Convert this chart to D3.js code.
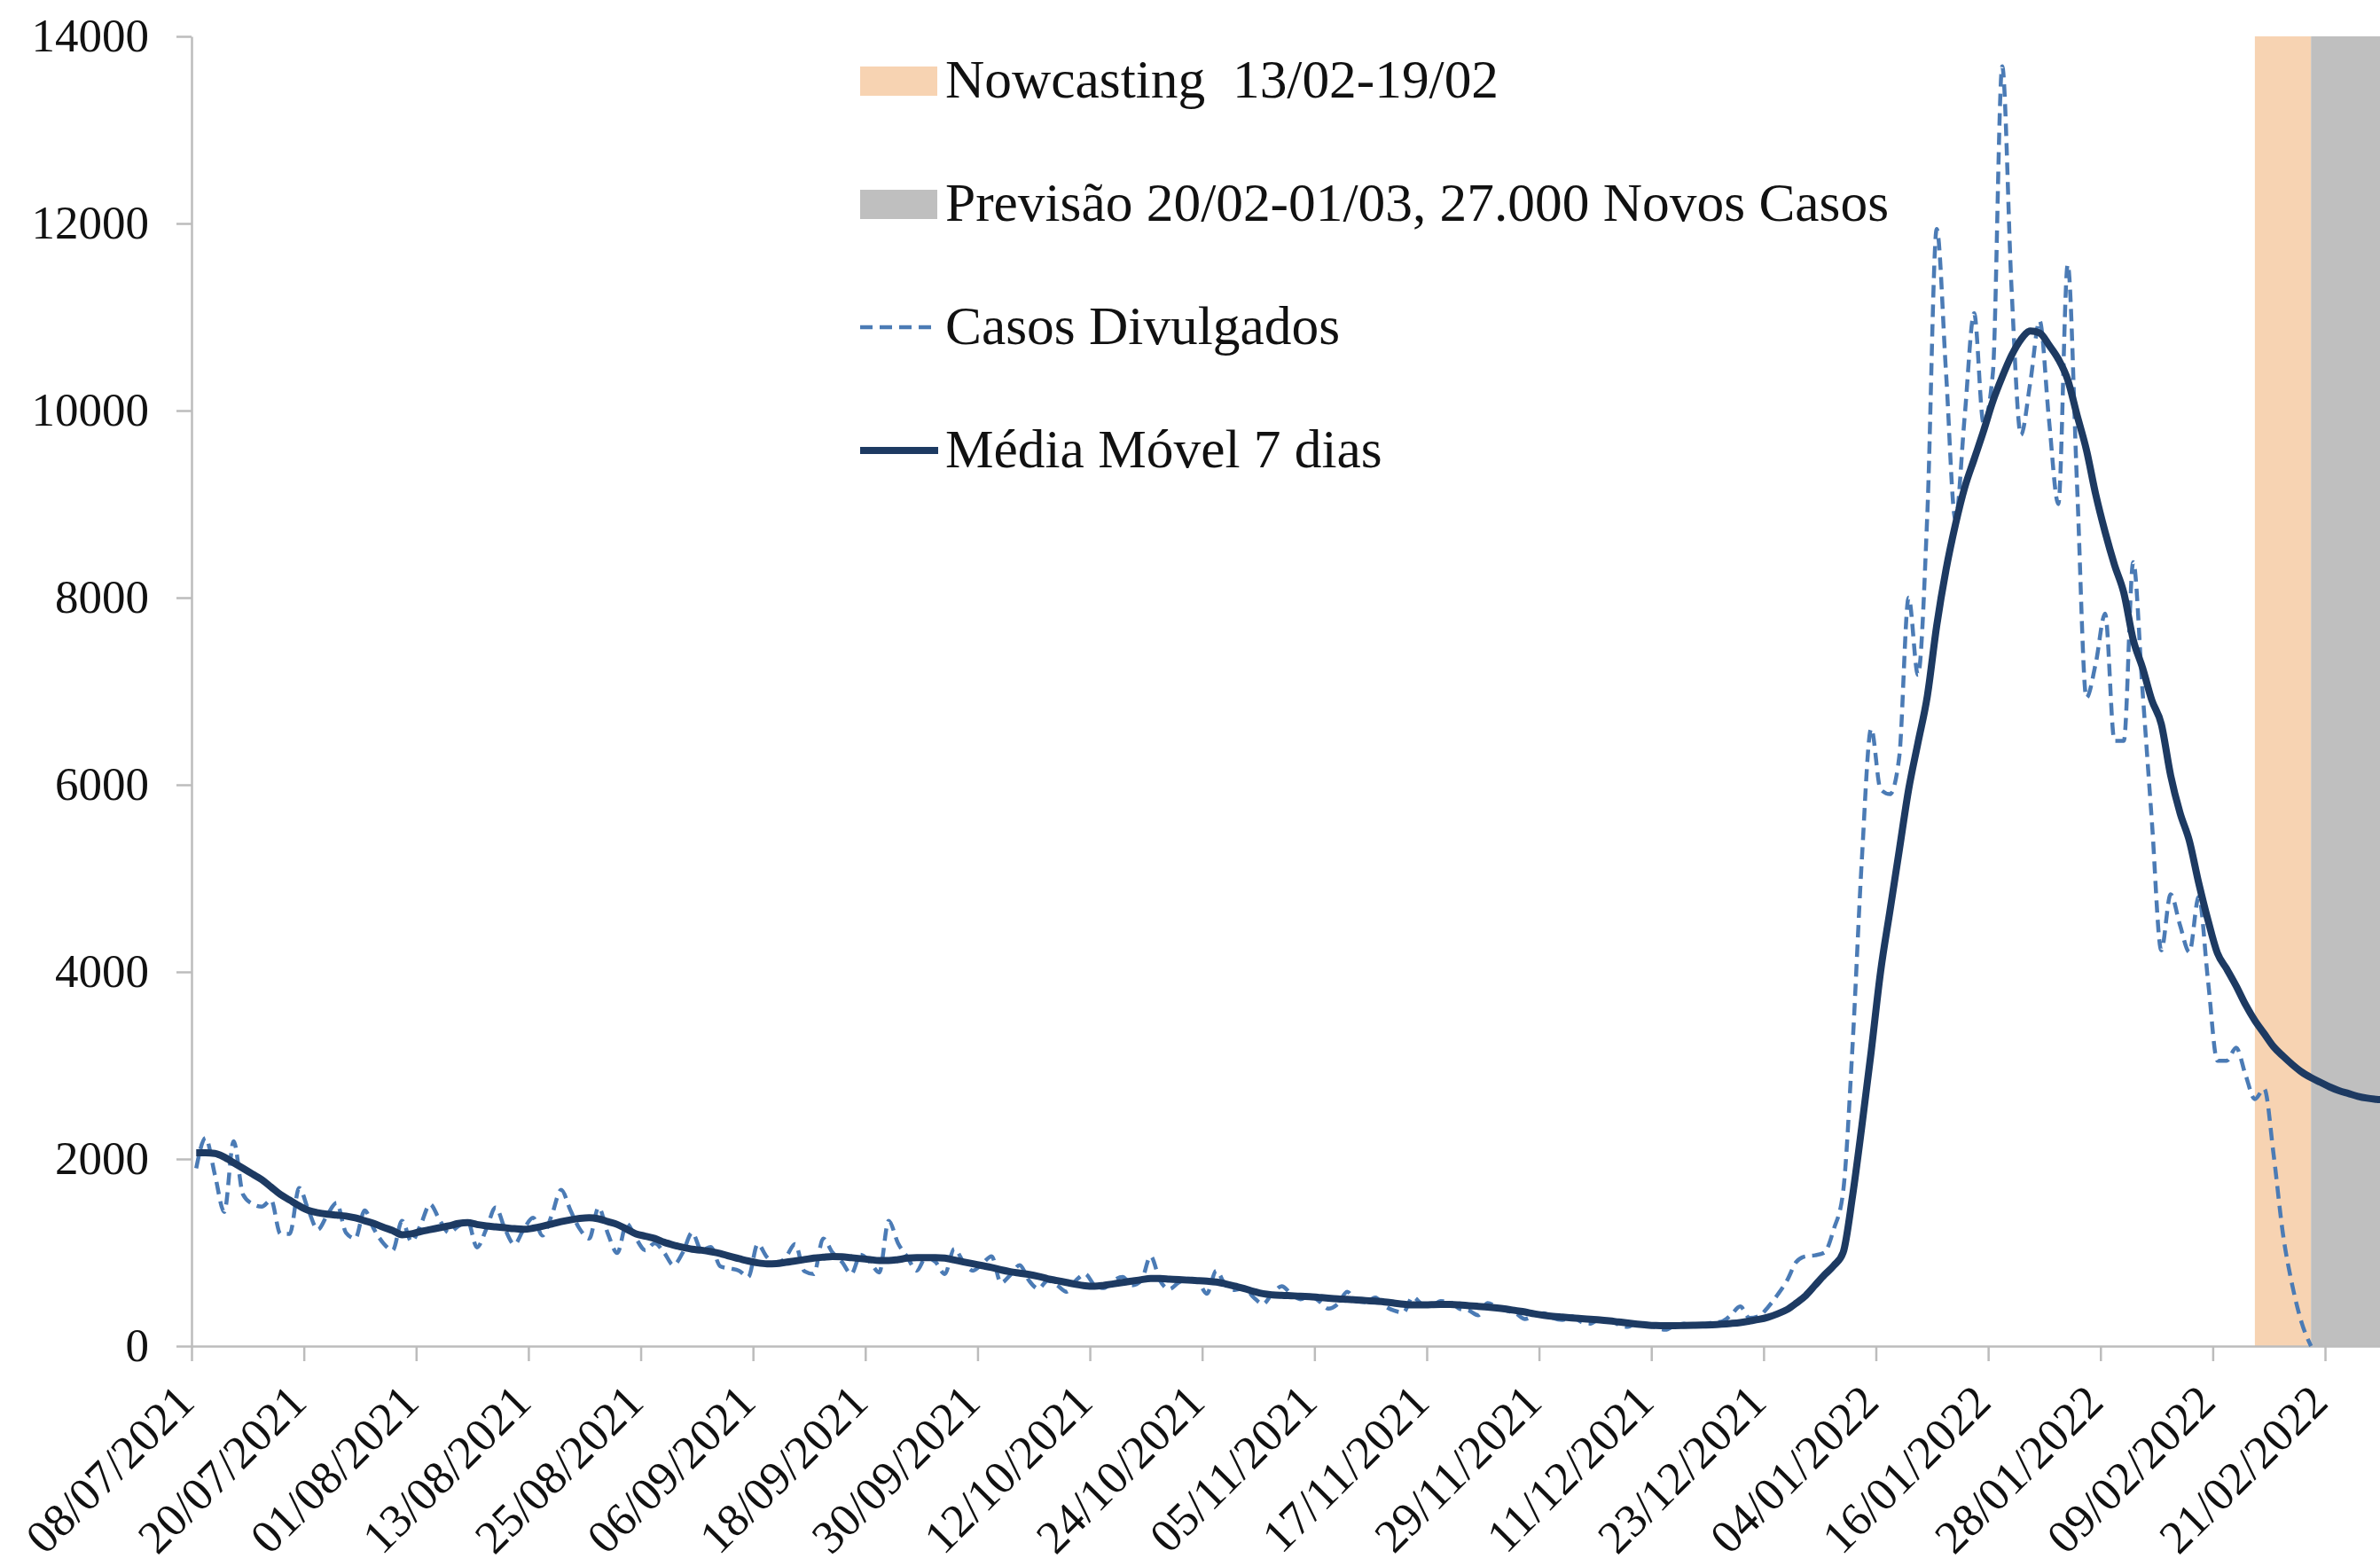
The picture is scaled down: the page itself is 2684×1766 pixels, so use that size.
<!DOCTYPE html>
<html><head><meta charset="utf-8">
<script src="https://cdn.jsdelivr.net/npm/d3@7"></script>
<style>html,body{margin:0;padding:0;background:#fff;} svg{display:block;}</style>
</head><body>
<svg id="chart" width="2684" height="1766"></svg>
<script>
// ---------------- DATA ----------------
const startDate = "08/07/2021";
// daily reported cases from 08/07/2021 to 19/02/2022
const casosDivulgados = [
 1900,2225,1830,1434,2190,1620,1520,1490,1560,1200,
 1200,1690,1450,1245,1400,1530,1213,1150,1450,1250,
 1100,1024,1340,1118,1300,1516,1350,1213,1280,1340,
 1055,1250,1482,1250,1087,1250,1372,1182,1400,1671,
 1450,1250,1150,1482,1200,995,1308,1150,1024,1100,
 1000,865,1000,1213,1024,1060,853,830,806,739,
 1090,950,880,950,1090,800,771,1150,1000,900,
 771,976,900,787,1340,1100,950,806,950,900,
 771,1040,900,806,880,960,676,760,865,700,
 613,700,650,581,700,771,650,620,700,740,
 650,700,960,700,610,680,720,700,560,805,
 650,600,620,520,450,560,640,560,500,540,
 480,400,450,581,480,470,520,430,380,360,
 525,450,430,480,470,400,380,330,460,420,
 380,350,290,330,350,300,280,320,260,240,
 290,280,230,205,250,240,200,175,220,240,
 210,230,250,260,330,423,300,320,420,550,
 700,900,960,970,1000,1250,1650,3200,5200,6600,
 5950,5900,6300,8000,7175,8900,11940,10400,8840,9950,
 11040,9870,10400,13680,11300,9740,10300,10960,9900,9000,
 11560,9200,6930,7300,7830,6470,6470,8380,7000,5600,
 4230,4830,4500,4210,4800,3900,3050,3050,3190,2900,
 2640,2750,2050,1200,650,250,0
];
// 7-day moving average from 08/07/2021 to 01/03/2022
const mediaMovel7Dias = [
 2066,2066,2060,2020,1960,1900,1840,1780,1700,1620,
 1560,1500,1450,1425,1410,1400,1390,1370,1340,1310,
 1270,1235,1190,1200,1225,1245,1265,1285,1310,1320,
 1300,1285,1275,1265,1255,1248,1260,1280,1305,1330,
 1350,1365,1372,1360,1330,1300,1250,1200,1175,1150,
 1110,1080,1055,1035,1025,1010,990,960,935,910,
 890,880,882,895,910,925,940,950,958,955,
 945,935,925,915,915,925,940,945,945,945,
 940,920,900,880,860,840,815,795,780,765,
 745,720,700,680,660,645,640,650,665,680,
 695,710,722,722,716,710,705,700,694,685,
 665,640,615,585,560,548,542,538,534,528,
 520,512,505,500,494,487,480,472,460,448,
 440,440,443,445,445,440,432,425,418,408,
 395,380,365,345,330,318,310,302,294,287,
 280,270,258,246,235,226,220,218,218,220,
 222,225,228,234,242,252,268,285,310,345,
 390,460,540,650,760,860,1000,1600,2350,3150,
 4000,4650,5300,5950,6450,6950,7700,8300,8780,9180,
 9480,9780,10100,10360,10590,10760,10850,10830,10700,10550,
 10330,9950,9580,9100,8700,8350,8050,7550,7250,6900,
 6650,6100,5700,5400,4950,4550,4200,4030,3850,3650,
 3480,3340,3200,3100,3010,2930,2870,2820,2770,2730,
 2700,2670,2650,2638,2628,2618,2610
];
const xTickLabels = ["08/07/2021","20/07/2021","01/08/2021","13/08/2021","25/08/2021",
 "06/09/2021","18/09/2021","30/09/2021","12/10/2021","24/10/2021","05/11/2021",
 "17/11/2021","29/11/2021","11/12/2021","23/12/2021","04/01/2022","16/01/2022",
 "28/01/2022","09/02/2022","21/02/2022"];
const yTickValues = [0,2000,4000,6000,8000,10000,12000,14000];
const nowcastingPeriod = ["13/02/2022","19/02/2022"];
const previsaoPeriod = ["20/02/2022","01/03/2022"];
const legendLabels = ["Nowcasting  13/02-19/02","Previsão 20/02-01/03, 27.000 Novos Casos","Casos Divulgados","Média Móvel 7 dias"];
const axisEndDate = "02/03/2022";

// ---------------- STYLE ----------------
const C = {orange:"#f7d3b2", gray:"#bfbfbf", dashed:"#4b7bb5", ma:"#1d3a62", axis:"#bcbcbc", text:"#111"};
const FONT = "'Liberation Serif','Times New Roman',serif";

const parse = d3.utcParse("%d/%m/%Y");
const t0 = parse(startDate);
const dayDate = i => d3.utcDay.offset(t0, i);
const mid = d => d3.utcHour.offset(d, 12);

const svg = d3.select("#chart");
const x = d3.scaleTime().domain([t0, parse(axisEndDate)]).range([216, 2717]);
const y = d3.scaleLinear().domain([0, 14000]).range([1518, 41]);

// bands
const nowS = x(mid(parse(nowcastingPeriod[0]))), nowE = x(mid(parse(nowcastingPeriod[1])));
const prevE = x(mid(parse(previsaoPeriod[1])));
svg.append("rect").attr("x", nowS).attr("y", y(14000)).attr("width", nowE - nowS)
  .attr("height", y(0) - y(14000)).attr("fill", C.orange);
svg.append("rect").attr("x", nowE).attr("y", y(14000)).attr("width", prevE - nowE)
  .attr("height", y(0) - y(14000)).attr("fill", C.gray);

// axes
const yAxis = d3.axisLeft(y).tickValues(yTickValues).tickSize(17).tickSizeOuter(0)
  .tickPadding(31).tickFormat(d3.format("d"));
const gy = svg.append("g").attr("transform", `translate(216,0)`).call(yAxis);
const xAxis = d3.axisBottom(x).tickValues(xTickLabels.map(parse)).tickSize(17).tickSizeOuter(0)
  .tickFormat((d, i) => xTickLabels[i]);
const gx = svg.append("g").attr("transform", `translate(0,1518)`).call(xAxis);
[gx, gy].forEach(g => {
  g.select(".domain").attr("stroke", C.axis).attr("stroke-width", 2.5);
  g.selectAll(".tick line").attr("stroke", C.axis).attr("stroke-width", 2.5);
  g.selectAll(".tick text").attr("fill", C.text).style("font-family", FONT).style("font-size", "53px");
});
gx.selectAll(".tick text").attr("x", null).attr("y", null).attr("dy", "0.35em")
  .attr("text-anchor", "end").attr("transform", "translate(-8,53) rotate(-45)");

// lines
const line = d3.line().x((d, i) => x(mid(dayDate(i)))).y(d => y(d)).curve(d3.curveMonotoneX);
svg.append("path").datum(casosDivulgados).attr("d", line).attr("fill", "none")
  .attr("stroke", C.dashed).attr("stroke-width", 4.5).attr("stroke-dasharray", "14,8");
svg.append("path").datum(mediaMovel7Dias).attr("d", line).attr("fill", "none")
  .attr("stroke", C.ma).attr("stroke-width", 8).attr("stroke-linejoin", "round");

// legend
const lg = svg.append("g");
legendLabels.forEach((lab, i) => {
  const cy = 91 + i * 139;
  if (i === 0 || i === 1) {
    lg.append("rect").attr("x", 970).attr("y", cy - 16).attr("width", 87).attr("height", 33)
      .attr("fill", i === 0 ? C.orange : C.gray);
  } else if (i === 2) {
    lg.append("line").attr("x1", 970).attr("x2", 1058).attr("y1", cy).attr("y2", cy)
      .attr("stroke", C.dashed).attr("stroke-width", 4.5).attr("stroke-dasharray", "14,8");
  } else {
    lg.append("line").attr("x1", 970).attr("x2", 1058).attr("y1", cy).attr("y2", cy)
      .attr("stroke", C.ma).attr("stroke-width", 8);
  }
  lg.append("text").attr("x", 1066).attr("y", cy + 19).text(lab)
    .attr("fill", C.text).style("font-family", FONT).style("font-size", "61.4px")
    .style("white-space", "pre").attr("xml:space", "preserve");
});
</script>
</body></html>
